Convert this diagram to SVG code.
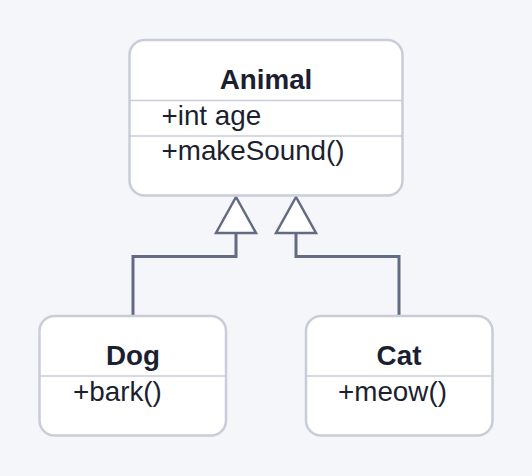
<svg xmlns="http://www.w3.org/2000/svg" width="532" height="476" viewBox="0 0 532 476">
<style>
.box{fill:#ffffff;stroke:#c9ccd9;stroke-width:2.5}
.div{stroke:#c9ccd9;stroke-width:1.5}
.t{font-family:"Liberation Sans",Arial,sans-serif;font-size:27.8px;fill:#1c1f30}
.b{font-weight:bold;text-anchor:middle}
.edge{fill:none;stroke:#636b83;stroke-width:3}
.head{fill:#ffffff;stroke:#636b83;stroke-width:2.5;stroke-linejoin:miter}
</style>
<rect width="532" height="476" fill="#f5f6fa"/>
<g id="edges">
<polyline class="edge" points="236,233 236,256.5 133,256.5 133,316"/>
<polygon class="head" points="236,197 216,233 256,233"/>
<polyline class="edge" points="296,233 296,256.5 399,256.5 399,316"/>
<polygon class="head" points="296,197 276,233 316,233"/>
</g>
<g id="Animal">
<rect class="box" x="129.5" y="40" width="273" height="155.5" rx="15"/>
<line class="div" x1="129.5" y1="100.5" x2="402.5" y2="100.5"/>
<line class="div" x1="129.5" y1="136" x2="402.5" y2="136"/>
<text class="t b" x="266" y="89">Animal</text>
<text class="t" x="161.5" y="125">+int age</text>
<text class="t" x="161.5" y="160">+makeSound()</text>
</g>
<g id="Dog">
<rect class="box" x="39.5" y="316" width="186.5" height="119.5" rx="15"/>
<line class="div" x1="39.5" y1="376" x2="226" y2="376"/>
<text class="t b" x="133" y="365">Dog</text>
<text class="t" x="73" y="401">+bark()</text>
</g>
<g id="Cat">
<rect class="box" x="306" y="316" width="186.5" height="119.5" rx="15"/>
<line class="div" x1="306" y1="376" x2="492.5" y2="376"/>
<text class="t b" x="399" y="365">Cat</text>
<text class="t" x="338" y="401">+meow()</text>
</g>
</svg>
